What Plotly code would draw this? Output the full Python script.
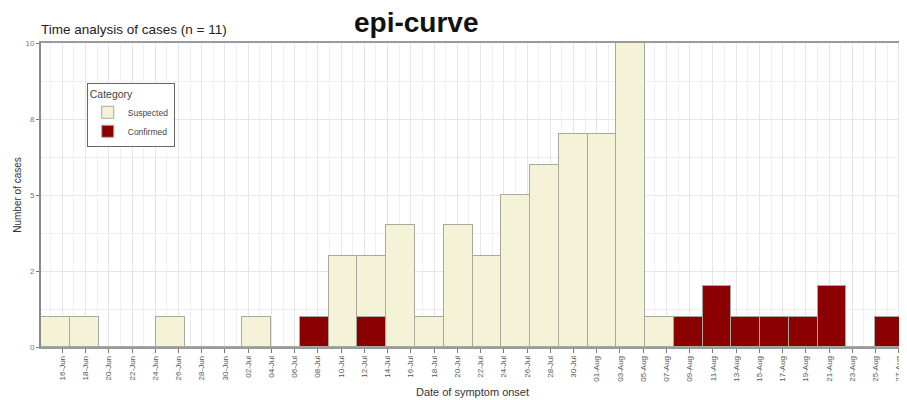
import datetime as dt
import plotly.graph_objects as go

# ---- data ----
bin_start = "2023-06-14 04:00"   # start of first bin
bin_days = 2.476                  # width of each bin in days
suspected = [1, 1, 0, 0, 1, 0, 0, 1, 0, 0, 3, 2, 4, 1, 4, 3, 5, 6, 7, 7, 10, 1, 0, 0, 0, 0, 0, 0, 0, 0]
confirmed = [0, 0, 0, 0, 0, 0, 0, 0, 0, 1, 0, 1, 0, 0, 0, 0, 0, 0, 0, 0, 0, 0, 1, 2, 1, 1, 1, 2, 0, 1]
y_tickvals = [0, 2.5, 5, 7.5, 10]
y_ticktext = ["0", "2", "5", "8", "10"]
first_tick = "2023-06-16"
last_tick = "2023-08-27"
series_names = ["Suspected", "Confirmed"]
series_colors = ["#F5F3D7", "#8B0000"]

# ---- build ----
start = dt.datetime.strptime(bin_start, "%Y-%m-%d %H:%M")
width = dt.timedelta(days=bin_days)
centers = [start + width * (i + 0.5) for i in range(len(suspected))]
x_end = start + width * len(suspected)
day_ms = 86400000

t0 = dt.datetime.strptime(first_tick, "%Y-%m-%d")
t1 = dt.datetime.strptime(last_tick, "%Y-%m-%d")
tickdates = []
d = t0
while d <= t1:
    tickdates.append(d)
    d += dt.timedelta(days=2)
ticklabels = [t.strftime("%d-%b") for t in tickdates]

# the page body adds an 8px margin, so the figure is 8px smaller than the window
W, H = 899, 392
ML, MR, MT, MB = 33, 3, 35, 53

fig = go.Figure()
fig.add_trace(go.Bar(x=centers, y=confirmed, name=series_names[1],
                     width=bin_days * day_ms, legendrank=2,
                     marker=dict(color=series_colors[1], line=dict(color="#A8A8A0", width=1))))
fig.add_trace(go.Bar(x=centers, y=suspected, name=series_names[0],
                     width=bin_days * day_ms, legendrank=1,
                     marker=dict(color=series_colors[0], line=dict(color="#A8A8A0", width=1))))

fig.update_layout(
    width=W, height=H,
    barmode="stack", bargap=0,
    plot_bgcolor="white", paper_bgcolor="white",
    margin=dict(l=ML, r=MR, t=MT, b=MB, autoexpand=False),
    font=dict(family="Liberation Sans, Arial", color="#444"),
    legend=dict(x=0.053, y=0.868, xanchor="left", yanchor="top",
                traceorder="normal",
                bordercolor="#666", borderwidth=1, bgcolor="white",
                title=dict(text="Category", font=dict(size=10.5, color="#444")),
                font=dict(size=8.5, color="#444"), itemwidth=30,
                tracegroupgap=0),
    xaxis=dict(type="date", range=[start, x_end], automargin=False,
               tickvals=tickdates, ticktext=ticklabels,
               tickangle=-90, tickfont=dict(size=8, color="#555"),
               ticks="outside", ticklen=4, tickcolor="#777",
               showgrid=True, gridcolor="#E6E6E6", gridwidth=1,
               minor=dict(dtick=day_ms, tick0=first_tick, showgrid=True, gridcolor="#F0F0F0"),
               showline=True, linecolor="#9A9A9A", linewidth=1.5, mirror=True,
               title=dict(text="Date of symptom onset", font=dict(size=11, color="#333"), standoff=8),
               zeroline=False),
    yaxis=dict(range=[0, 10], tickvals=y_tickvals, ticktext=y_ticktext, automargin=False,
               tickfont=dict(size=8, color="#777"),
               ticks="outside", ticklen=3, tickcolor="#777",
               showgrid=True, gridcolor="#E6E6E6",
               minor=dict(dtick=1.25, tick0=0, showgrid=True, gridcolor="#EFEFEF"),
               showline=True, linecolor="#8A8A8A", linewidth=2, mirror=True,
               title=dict(text="Number of cases", font=dict(size=10, color="#333"), standoff=2),
               zeroline=False),
)

fig.add_annotation(text="Time analysis of cases (n = 11)", xref="paper", yref="paper",
                   x=0, y=1, xanchor="left", yanchor="bottom", yshift=4, xshift=-2,
                   showarrow=False, font=dict(size=13.5, color="#222"))
fig.add_annotation(text="<b>epi-curve</b>", xref="paper", yref="paper",
                   x=(408 - ML) / (W - ML - MR), y=1, xanchor="center", yanchor="middle",
                   yshift=21, showarrow=False, font=dict(size=28, color="#111"))

fig.write_html("out.html")
